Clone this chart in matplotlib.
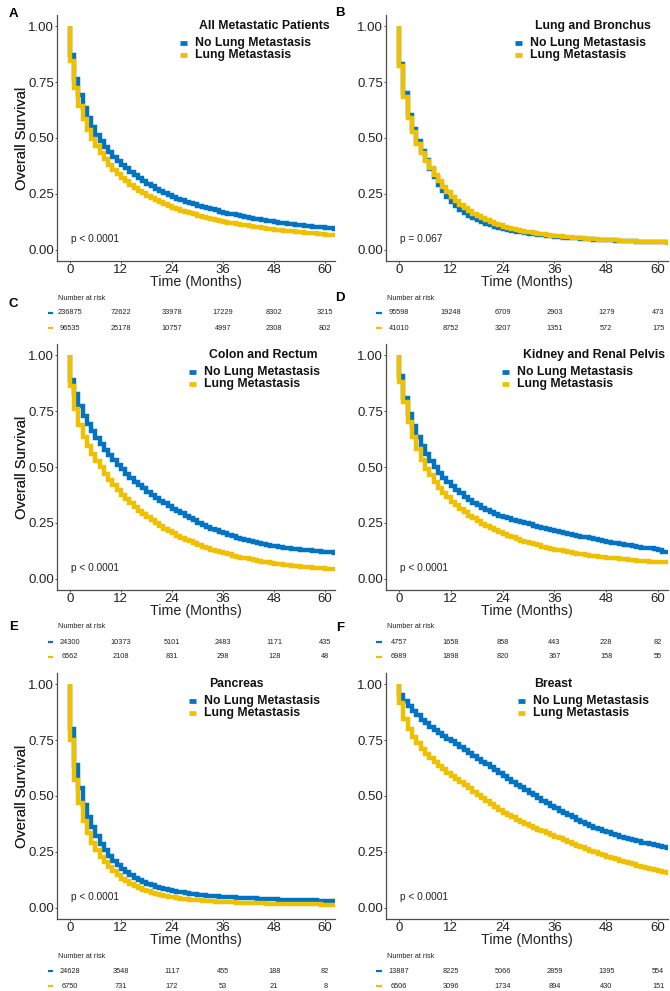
import numpy as np
import matplotlib
matplotlib.use("Agg")
import matplotlib.pyplot as plt

plt.rcParams['font.family'] = ['Liberation Sans', 'DejaVu Sans']

BLUE = '#0073C2'
YELLOW = '#EFC000'

# survival per month interval [k, k+1), k = 0..62
a_no = [.870, .765, .692, .636, .588, .550, .515, .486, .459, .436, .415, .397, .380,
        .364, .349, .334, .320, .307, .295, .284, .273, .263, .254, .245, .237,
        .229, .222, .215, .209, .203, .197, .191, .186, .181, .176, .171, .166,
        .162, .158, .154, .150, .146, .143, .140, .136, .133, .130, .127, .124,
        .121, .119, .117, .114, .112, .110, .108, .106, .104, .102, .100, .098, .096, .095]
a_lung = [.845, .725, .645, .585, .537, .497, .462, .432, .405, .381, .359, .340, .322,
          .306, .291, .277, .264, .252, .241, .231, .221, .212, .204, .196, .189,
          .182, .175, .169, .163, .158, .153, .148, .143, .139, .135, .131, .125,
          .121, .118, .115, .112, .109, .106, .103, .100, .097, .095, .092, .090,
          .088, .086, .084, .082, .080, .078, .076, .074, .073, .071, .070, .068, .067, .066]

b_no = [.830, .700, .605, .540, .485, .443, .400, .360, .325, .292, .263, .236, .213,
        .195, .179, .165, .153, .142, .132, .124, .116, .109, .103, .098, .093,
        .089, .085, .081, .078, .075, .072, .069, .067, .065, .063, .061, .059,
        .057, .055, .054, .052, .051, .050, .048, .047, .046, .045, .044, .043,
        .042, .041, .040, .039, .038, .038, .037, .036, .036, .035, .035, .034, .034, .033]
b_lung = [.820, .685, .590, .528, .475, .432, .398, .365, .336, .308, .282, .258, .236,
          .218, .202, .187, .174, .162, .151, .141, .132, .124, .117, .110, .104,
          .099, .094, .089, .085, .081, .078, .075, .072, .069, .066, .064, .062,
          .060, .058, .056, .054, .053, .051, .050, .048, .047, .046, .045, .044,
          .043, .042, .041, .040, .039, .038, .037, .036, .035, .035, .034, .033, .033, .032]

c_no = [.890, .825, .775, .730, .692, .660, .630, .602, .576, .552, .530, .509, .489,
        .470, .452, .435, .419, .404, .389, .375, .362, .349, .337, .325, .314,
        .303, .293, .283, .273, .264, .250, .241, .233, .225, .217, .210, .203,
        .196, .190, .184, .178, .173, .168, .163, .159, .155, .151, .148, .145,
        .142, .139, .137, .135, .133, .131, .129, .127, .125, .123, .121, .120, .118, .116]
c_lung = [.860, .760, .690, .635, .595, .560, .528, .498, .470, .444, .420, .398, .377,
          .357, .339, .321, .305, .289, .275, .261, .248, .236, .224, .213, .203,
          .193, .184, .175, .167, .159, .151, .144, .137, .131, .125, .119, .114,
          .109, .104, .099, .095, .091, .087, .083, .080, .077, .074, .071, .068,
          .066, .063, .061, .059, .057, .055, .053, .052, .050, .049, .047, .046, .045, .044]

d_no = [.905, .810, .738, .683, .636, .594, .558, .528, .500, .475, .453, .433, .415,
        .398, .382, .367, .353, .340, .328, .317, .307, .298, .290, .282, .275,
        .270, .264, .258, .253, .248, .243, .238, .233, .228, .224, .220, .216,
        .211, .206, .201, .197, .193, .189, .185, .181, .177, .173, .169, .165,
        .161, .158, .155, .152, .149, .146, .143, .140, .138, .136, .134, .130, .120, .120]
d_lung = [.880, .790, .700, .632, .580, .530, .493, .462, .434, .408, .385, .364, .345,
          .328, .312, .297, .283, .270, .258, .247, .236, .226, .217, .208, .200,
          .192, .185, .178, .171, .165, .159, .154, .149, .144, .139, .135, .131,
          .127, .123, .119, .116, .113, .110, .107, .104, .101, .099, .097, .095,
          .093, .091, .089, .087, .085, .083, .081, .080, .078, .077, .076, .075, .074, .074]

e_no = [.800, .640, .535, .460, .405, .360, .320, .287, .258, .233, .211, .192, .175,
        .160, .147, .135, .125, .116, .108, .101, .095, .089, .084, .080, .076,
        .072, .069, .066, .063, .061, .059, .057, .055, .053, .052, .050, .049,
        .048, .047, .046, .045, .044, .043, .042, .041, .040, .039, .039, .038,
        .037, .037, .036, .035, .035, .034, .034, .033, .033, .032, .032, .031, .031, .030]
e_lung = [.750, .570, .470, .390, .335, .292, .258, .229, .204, .182, .163, .146, .131,
          .118, .107, .097, .088, .081, .074, .068, .063, .058, .054, .050, .047,
          .044, .041, .039, .037, .035, .033, .032, .030, .029, .028, .027, .026,
          .025, .024, .023, .023, .022, .021, .021, .020, .020, .019, .019, .018,
          .018, .017, .017, .017, .016, .016, .016, .015, .015, .015, .014, .014, .014, .014]

f_no = [.950, .925, .902, .880, .860, .842, .825, .809, .794, .780, .767, .756, .745,
        .732, .719, .706, .693, .680, .667, .654, .641, .628, .615, .602, .589,
        .576, .563, .551, .539, .527, .515, .503, .491, .479, .468, .457, .446,
        .435, .424, .414, .404, .394, .385, .376, .367, .359, .351, .344, .337,
        .330, .324, .318, .312, .307, .302, .297, .292, .288, .284, .280, .276, .272, .268]
f_lung = [.918, .845, .800, .765, .737, .712, .690, .670, .652, .635, .619, .604, .590,
          .576, .562, .548, .534, .520, .506, .492, .478, .464, .451, .438, .426,
          .415, .404, .394, .384, .375, .366, .358, .350, .342, .334, .326, .318,
          .310, .302, .294, .286, .278, .270, .262, .255, .248, .241, .235, .229,
          .223, .217, .211, .205, .199, .194, .189, .184, .179, .174, .169, .165, .160, .156]

risk_times = [0, 12, 24, 36, 48, 60]
risk_a = ([236875, 72622, 33978, 17229, 8302, 3215], [96535, 25178, 10757, 4997, 2308, 802])
risk_b = ([95598, 19248, 6709, 2903, 1279, 473], [41010, 8752, 3207, 1351, 572, 175])
risk_c = ([24300, 10373, 5101, 2483, 1171, 435], [6562, 2108, 831, 298, 128, 48])
risk_d = ([4757, 1658, 858, 443, 228, 82], [6989, 1898, 820, 367, 158, 55])
risk_e = ([24628, 3548, 1117, 455, 188, 82], [6750, 731, 172, 53, 21, 8])
risk_f = ([13887, 8225, 5066, 2859, 1395, 554], [6506, 3096, 1734, 894, 430, 151])

titles = ['All Metastatic Patients', 'Lung and Bronchus', 'Colon and Rectum',
          'Kidney and Renal Pelvis', 'Pancreas', 'Breast']
pvals = ['p < 0.0001', 'p = 0.067', 'p < 0.0001', 'p < 0.0001', 'p < 0.0001', 'p < 0.0001']
letters = ['A', 'B', 'C', 'D', 'E', 'F']
curves = [(a_no, a_lung), (b_no, b_lung), (c_no, c_lung),
          (d_no, d_lung), (e_no, e_lung), (f_no, f_lung)]
risks = [risk_a, risk_b, risk_c, risk_d, risk_e, risk_f]

W, H = 670, 991
fig = plt.figure(figsize=(W / 100, H / 100), dpi=100)

col_left = [57, 386]
col_width = [278, 282]
text_left = [195, 530, 204, 517, 204, 533]   # legend text start (px)
title_left = [199, 535, 209, 523, 209, 534]
letter_pos = [(13.5, 14), (340, 12.5), (13.5, 304), (340, 298), (13.5, 627), (340, 628)]

XMIN, XMAX = -3.0, 62.3


def fx(px):
    return px / W


def fy(py):
    return 1 - py / H


def step_xy(vals):
    v = np.asarray(vals)
    x = np.r_[0, np.arange(len(v)), len(v)]
    y = np.r_[1.0, v, v[-1]]
    return x, y


for i in range(6):
    r, c = divmod(i, 2)
    top = 15 + 329 * r
    bot = 261 + 329 * r
    left = col_left[c]
    wpx = col_width[c]
    ax = fig.add_axes([fx(left), fy(bot), fx(wpx), (bot - top) / H])

    no, lung = curves[i]
    for vals, col in ((no, BLUE), (lung, YELLOW)):
        x, y = step_xy(vals)
        ax.step(x, y, where='post', color=col, lw=3.2,
                solid_joinstyle='miter', solid_capstyle='butt')

    ax.set_xlim(XMIN, XMAX)
    ax.set_ylim(-0.05, 1.05)
    ax.set_xticks([0, 12, 24, 36, 48, 60])
    ax.set_yticks([0, .25, .5, .75, 1.0])
    ax.set_yticklabels(['0.00', '0.25', '0.50', '0.75', '1.00'])
    for s in ('top', 'right'):
        ax.spines[s].set_visible(False)
    for s in ('left', 'bottom'):
        ax.spines[s].set_color('#4d4d4d')
        ax.spines[s].set_linewidth(0.9)
    ax.tick_params(axis='both', length=1.5, width=0.7, color='#4d4d4d',
                   labelsize=9.5, labelcolor='#222222', pad=0.5)
    ax.set_xlabel('Time (Months)', fontsize=10.3, color='#222222')
    ax.set_ylabel('Overall Survival', fontsize=10.5, color='#222222')
    ax.xaxis.set_label_coords(0.5, -0.057)
    ax.yaxis.set_label_coords((29 - left) / wpx, 0.5)

    ax.text(0.2, 0.05, pvals[i], fontsize=7.3, color='#222222', ha='left', va='center')

    # legend drawn by hand
    tl = (title_left[i] - left) / wpx
    ax.text(tl, 0.955, titles[i], transform=ax.transAxes, fontsize=8.8,
            fontweight='bold', ha='left', va='center', color='#111111')
    lx = (text_left[i] - left) / wpx
    k0 = (text_left[i] - 15 - left) / wpx
    k1 = (text_left[i] - 8.3 - left) / wpx
    for yy, col, lab in ((0.886, BLUE, 'No Lung Metastasis'), (0.837, YELLOW, 'Lung Metastasis')):
        ax.plot([k0, k1], [yy, yy], transform=ax.transAxes, color=col, lw=3.4,
                solid_capstyle='butt', clip_on=False)
        ax.text(lx, yy, lab, transform=ax.transAxes, fontsize=8.8, fontweight='bold',
                ha='left', va='center', color='#111111')

    # number at risk table
    t0 = 290 + 329 * r
    tax = fig.add_axes([fx(left), fy(t0 + 46), fx(wpx), 46 / H])
    tax.set_xlim(XMIN, XMAX)
    tax.set_ylim(46, 0)
    tax.axis('off')
    tax.text(XMIN + 0.2, 8, 'Number at risk', fontsize=5.2, ha='left', va='center',
             color='#222222')
    for yy, col, row in ((23, BLUE, risks[i][0]), (38, YELLOW, risks[i][1])):
        for t, n in zip(risk_times, row):
            tax.text(t, yy, str(n), fontsize=5.3, ha='center', va='center', color='#222222')
        tax.plot([-0.034, -0.015], [1 - yy / 46, 1 - yy / 46], transform=tax.transAxes,
                 color=col, lw=1.6, solid_capstyle='butt', clip_on=False)

    fig.text(fx(letter_pos[i][0]), fy(letter_pos[i][1]), letters[i], fontsize=9.5,
             fontweight='bold', ha='center', va='center')

fig.savefig('out.png', dpi=100)
